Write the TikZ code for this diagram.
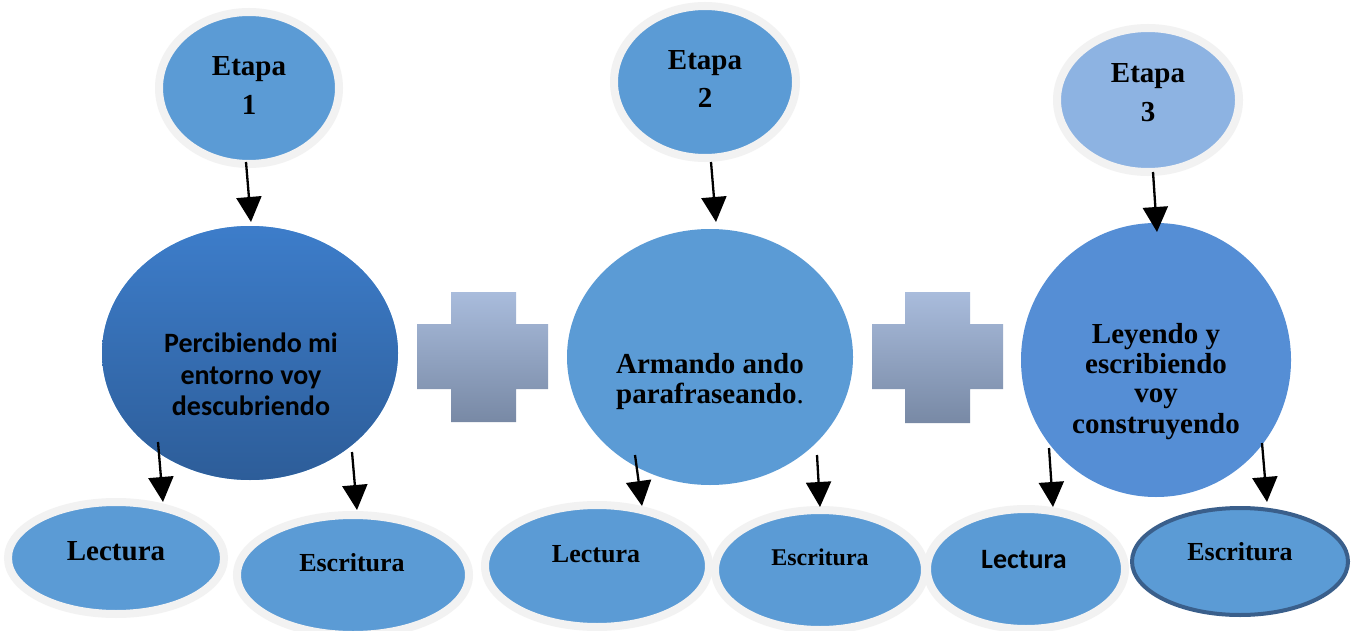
\documentclass[tikz,border=0pt]{standalone}
\usepackage{fontspec}
\setmainfont{Liberation Serif}
\newfontfamily\carl{Carlito}
\usetikzlibrary{shapes.geometric,arrows.meta}
\definecolor{cblue}{HTML}{5B9BD5}
\definecolor{cring}{HTML}{F2F2F2}
\definecolor{clight}{HTML}{8DB3E2}
\definecolor{cmid}{HTML}{558ED5}
\definecolor{cgtop}{HTML}{3D7DCA}
\definecolor{cgbot}{HTML}{2D5D99}
\definecolor{cptop}{HTML}{A9BCDC}
\definecolor{cpbot}{HTML}{7889A5}
\definecolor{cedge}{HTML}{3A5F8B}
\begin{document}
\begin{tikzpicture}[x=1pt,y=-1pt,
 oval/.style={ellipse, inner sep=0pt, fill=cblue},
 ringed/.style={oval, draw=cring, line width=8pt},
 lbl/.style={anchor=base, inner sep=0pt, font=\fontsize{29}{31}\selectfont\bfseries},
 lblsans/.style={anchor=base, inner sep=0pt, font=\fontsize{28}{31}\selectfont\carl\bfseries},
 conn/.style={line width=2.3pt, -{Triangle[length=25pt,width=25pt]}},
 plusshape/.style={top color=cptop, bottom color=cpbot}]
\useasboundingbox (0,0) rectangle (1351,631);
\fill[white] (0,0) rectangle (1351,631);

% plus signs
\path[plusshape] (451,292) -- (516,292) -- (516,324) -- (548,324) -- (548,389) -- (516,389) -- (516,422) -- (451,422) -- (451,389) -- (417,389) -- (417,324) -- (451,324) -- cycle;
\path[plusshape] (905,292) -- (970,292) -- (970,324) -- (1003,324) -- (1003,389) -- (970,389) -- (970,423) -- (905,423) -- (905,389) -- (872,389) -- (872,324) -- (905,324) -- cycle;

% stage ellipses
\node[ringed, minimum width=180pt, minimum height=152pt] (e1) at (249,88) {};
\node[ringed, minimum width=182pt, minimum height=152pt] (e2) at (705,82) {};
\node[ringed, fill=clight, minimum width=182pt, minimum height=144pt] (e3) at (1148,100) {};

% main circles
\node[oval, minimum width=296pt, minimum height=254pt, top color=cgtop, bottom color=cgbot] (m1) at (250,353) {};
\node[oval, minimum width=286pt, minimum height=256pt] (m2) at (710,357) {};
\node[oval, fill=cmid, minimum width=270pt, minimum height=274pt] (m3) at (1156,360) {};

% bottom ellipses
\node[ringed, minimum width=216pt, minimum height=112pt] (l1) at (116,558) {};
\node[ringed, minimum width=232pt, minimum height=120pt] (w1) at (353,575) {};
\node[ringed, minimum width=224pt, minimum height=122pt] (l2) at (597,566) {};
\node[ringed, minimum width=210pt, minimum height=120pt] (w2) at (820,570) {};
\node[ringed, minimum width=198pt, minimum height=120pt] (l3) at (1026,569) {};
\node[oval, draw=cedge, line width=4pt, minimum width=216pt, minimum height=107pt] (w3) at (1240,561.5) {};

% texts
\node[lbl] (e1a) at (249,76) {Etapa};
\node[lbl] (e1b) at (249,115) {1};
\node[lbl] (e2a) at (705,70) {Etapa};
\node[lbl] (e2b) at (705,108) {2};
\node[lbl] (e3a) at (1148,83) {Etapa};
\node[lbl] (e3b) at (1148,122) {3};

\node[lblsans] (m1a) at (251,352) {Percibiendo mi};
\node[lblsans] (m1b) at (251,384) {entorno voy};
\node[lblsans] (m1c) at (251,415) {descubriendo};

\node[lbl] (m2a) at (710,373) {Armando ando};
\node[lbl] (m2b) at (710,403) {parafraseando\textmd{.}};

\node[lbl] (m3a) at (1156,343) {Leyendo y};
\node[lbl] (m3b) at (1156,373) {escribiendo};
\node[lbl] (m3c) at (1156,402) {voy};
\node[lbl] (m3d) at (1156,433) {construyendo};

\node[lbl] (l1t) at (116,560) {Lectura};
\node[lbl, font=\fontsize{26}{30}\selectfont\bfseries] (w1t) at (352,571) {Escritura};
\node[lbl, font=\fontsize{26}{30}\selectfont\bfseries] (l2t) at (596,562) {Lectura};
\node[lbl, font=\fontsize{24}{30}\selectfont\bfseries] (w2t) at (820,565) {Escritura};
\node[lblsans] (l3t) at (1024,568) {Lectura};
\node[lbl, font=\fontsize{26}{30}\selectfont\bfseries] (w3t) at (1240,560) {Escritura};

% connector end points
\coordinate (s1) at (246,162); \coordinate (t1) at (251,222);
\coordinate (s2) at (711,162); \coordinate (t2) at (716,222);
\coordinate (s3) at (1153,172); \coordinate (t3) at (1157,232);
\coordinate (s4) at (158,442); \coordinate (t4) at (163,502);
\coordinate (s5) at (352,452); \coordinate (t5) at (357,510);
\coordinate (s6) at (635,455); \coordinate (t6) at (642,506);
\coordinate (s7) at (817,455); \coordinate (t7) at (820,507);
\coordinate (s8) at (1049,448); \coordinate (t8) at (1053,507);
\coordinate (s9) at (1262,443); \coordinate (t9) at (1267,502);

\draw[conn] (s1) -- (t1);
\draw[conn] (s2) -- (t2);
\draw[conn] (s3) -- (t3);
\draw[conn] (s4) -- (t4);
\draw[conn] (s5) -- (t5);
\draw[conn] (s6) -- (t6);
\draw[conn] (s7) -- (t7);
\draw[conn] (s8) -- (t8);
\draw[conn] (s9) -- (t9);
\end{tikzpicture}
\end{document}
